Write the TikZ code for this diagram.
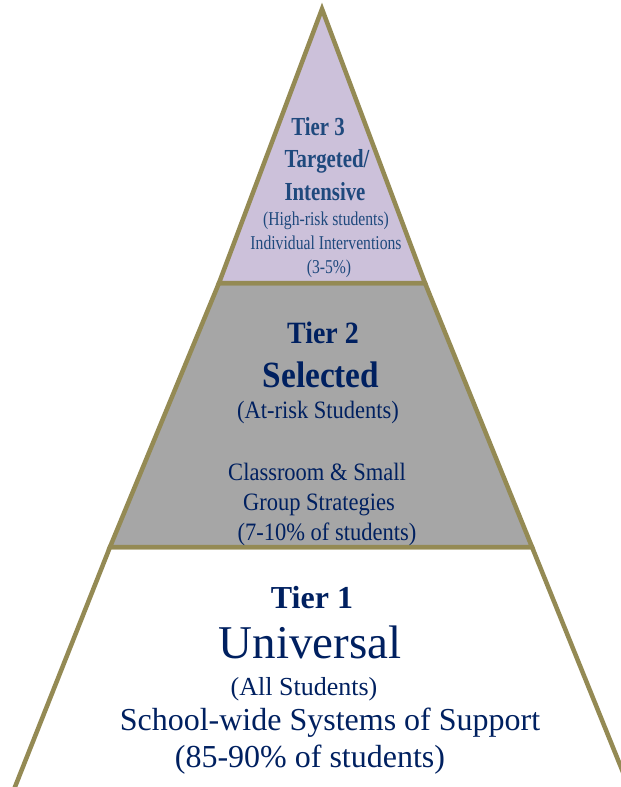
\documentclass[tikz,border=0pt]{standalone}
\usepackage{fontspec}
\setmainfont{Liberation Serif}
\newfontfamily\narrowtop[FakeStretch=0.8]{Liberation Serif}
\newfontfamily\narrowmid[FakeStretch=0.9]{Liberation Serif}
\usepackage{tikz}
\usetikzlibrary{calc,positioning}
\definecolor{pyrline}{HTML}{948A54}
\definecolor{pyrlav}{HTML}{CCC1DA}
\definecolor{pyrgray}{HTML}{A6A6A6}
\definecolor{navytop}{HTML}{1F497D}
\definecolor{navy}{HTML}{002060}

\begin{document}
\begin{tikzpicture}[x=1pt,y=-1pt,
  edge/.style={draw=pyrline,line width=4.5pt,line join=miter},
  txt/.style={inner sep=0pt,anchor=base,align=center},
  topbold/.style={txt,text=navytop,font=\narrowtop\bfseries\fontsize{26}{26}\selectfont},
  topsmall/.style={txt,text=navytop,font=\narrowtop\fontsize{19.6}{19.6}\selectfont},
  midsmall/.style={txt,text=navy,font=\narrowmid\fontsize{25}{25}\selectfont},
  lowtext/.style={txt,text=navy,font=\fontsize{32}{32}\selectfont}]
\useasboundingbox (0,0) rectangle (621,787);
\clip (0,0) rectangle (621,787);
\draw[edge] (11,797)coordinate(F) -- (110,547)coordinate(D) -- (532,547)coordinate(C) -- (633,797)coordinate(G);
\draw[edge,fill=pyrgray] (219,283)coordinate(B) -- (425,283)coordinate(E) -- (C) -- (D) -- cycle;
\draw[edge,fill=pyrlav] (322,9)coordinate(A) -- (E) -- (B) -- cycle;
\node[topbold] (tier3) at (318,135) {Tier 3};
\node[topbold] (targeted) at (327,167) {Targeted/};
\node[topbold] (intensive) at (325,200) {Intensive};
\node[topsmall] (highrisk) at (326,225) {(High-risk students)};
\node[topsmall] (individual) at (326,249) {Individual Interventions};
\node[topsmall] (pcttop) at (329,273) {(3-5\%)};
\node[midsmall,font=\narrowmid\bfseries\fontsize{31}{31}\selectfont] (tier2) at (323,343) {Tier 2};
\node[midsmall,font=\narrowmid\bfseries\fontsize{37}{37}\selectfont] (selected) at (321,387) {Selected};
\node[midsmall] (atrisk) at (318,418) {(At-risk Students)};
\node[midsmall] (classroom) at (317,480) {Classroom \& Small};
\node[midsmall] (group) at (319,510) {Group Strategies};
\node[midsmall] (pctmid) at (327,540) {(7-10\% of students)};
\node[lowtext,font=\bfseries\fontsize{32}{32}\selectfont] (tier1) at (312,608) {Tier 1};
\node[lowtext,font=\fontsize{47}{47}\selectfont] (universal) at (310,658) {Universal};
\node[lowtext,font=\fontsize{26}{26}\selectfont] (allstudents) at (304,695) {(All Students)};
\node[lowtext] (schoolwide) at (330,730) {School-wide Systems of Support};
\node[lowtext] (pctlow) at (310,767) {(85-90\% of students)};
\end{tikzpicture}
\end{document}
